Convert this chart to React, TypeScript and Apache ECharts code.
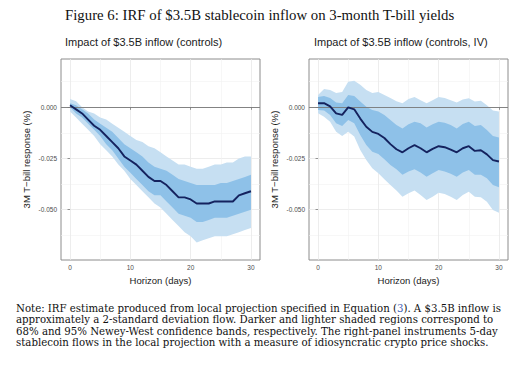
import React, { useEffect, useRef } from "react";
import * as echarts from "echarts";

const days = [0,1,2,3,4,5,6,7,8,9,10,11,12,13,14,15,16,17,18,19,20,21,22,23,24,25,26,27,28,29,30];

const leftMid = [0.001,-0.001,-0.003,-0.006,-0.009,-0.011,-0.014,-0.017,-0.020,-0.024,-0.026,-0.028,-0.031,-0.034,-0.036,-0.036,-0.038,-0.041,-0.044,-0.044,-0.045,-0.047,-0.047,-0.047,-0.046,-0.046,-0.046,-0.046,-0.043,-0.042,-0.041];
const leftHi95 = [0.004,0.003,0.000,-0.002,-0.003,-0.005,-0.006,-0.008,-0.010,-0.012,-0.014,-0.016,-0.017,-0.019,-0.020,-0.022,-0.024,-0.026,-0.028,-0.028,-0.029,-0.030,-0.030,-0.029,-0.028,-0.028,-0.027,-0.027,-0.025,-0.024,-0.024];
const leftLo95 = [-0.002,-0.005,-0.008,-0.011,-0.014,-0.018,-0.021,-0.024,-0.028,-0.031,-0.035,-0.038,-0.041,-0.044,-0.047,-0.049,-0.052,-0.055,-0.058,-0.061,-0.063,-0.066,-0.065,-0.064,-0.063,-0.063,-0.063,-0.062,-0.061,-0.060,-0.059];
const leftHi68 = [0.002,0.001,-0.001,-0.003,-0.006,-0.008,-0.010,-0.012,-0.015,-0.018,-0.020,-0.022,-0.024,-0.027,-0.029,-0.030,-0.031,-0.033,-0.035,-0.036,-0.037,-0.038,-0.038,-0.038,-0.038,-0.037,-0.037,-0.036,-0.035,-0.034,-0.033];
const leftLo68 = [0.000,-0.003,-0.005,-0.008,-0.011,-0.014,-0.018,-0.021,-0.025,-0.029,-0.032,-0.035,-0.038,-0.041,-0.043,-0.043,-0.046,-0.049,-0.052,-0.053,-0.054,-0.056,-0.056,-0.055,-0.054,-0.054,-0.054,-0.053,-0.052,-0.051,-0.050];

const rightMid = [0.002,0.002,0.0005,-0.003,-0.0037,0.000,-0.001,-0.0055,-0.0095,-0.012,-0.013,-0.015,-0.018,-0.0205,-0.022,-0.020,-0.0185,-0.020,-0.022,-0.0203,-0.019,-0.0195,-0.0207,-0.022,-0.020,-0.019,-0.0213,-0.021,-0.023,-0.0258,-0.0265];
const rightHi95 = [0.006,0.009,0.0085,0.007,0.0075,0.0125,0.013,0.011,0.0085,0.007,0.0075,0.006,0.0045,0.003,0.002,0.004,0.005,0.0035,0.002,0.0035,0.005,0.0045,0.0035,0.0023,0.0038,0.0044,0.0028,0.0032,0.001,-0.0015,-0.002];
const rightLo95 = [-0.0029,-0.0046,-0.007,-0.0119,-0.014,-0.0119,-0.0143,-0.0208,-0.0257,-0.0298,-0.0322,-0.0352,-0.038,-0.0407,-0.0437,-0.042,-0.0407,-0.0428,-0.0453,-0.0437,-0.0417,-0.0423,-0.0437,-0.0453,-0.0428,-0.0412,-0.0437,-0.044,-0.0461,-0.0502,-0.0515];
const rightHi68 = [0.005,0.0055,0.0045,0.0023,0.002,0.006,0.0055,0.0028,0.0003,-0.0013,-0.002,-0.0037,-0.0062,-0.0086,-0.0103,-0.0083,-0.007,-0.0078,-0.0099,-0.0083,-0.007,-0.0075,-0.0086,-0.0103,-0.0081,-0.007,-0.0091,-0.0086,-0.0111,-0.014,-0.0147];
const rightLo68 = [-0.0013,-0.0016,-0.0037,-0.0078,-0.0091,-0.0062,-0.0078,-0.0135,-0.0184,-0.0217,-0.0228,-0.0254,-0.0282,-0.0303,-0.033,-0.0314,-0.0303,-0.0319,-0.0339,-0.0322,-0.0306,-0.0314,-0.0325,-0.0339,-0.0319,-0.0306,-0.033,-0.033,-0.0347,-0.038,-0.039];

const xMajorTicks = [0, 10, 20, 30];
const xMinorTicks = [5, 15, 25];
const yMajorTicks = [-0.05, -0.025, 0];
const yMinorTicks = [-0.0625, -0.0375, -0.0125, 0.0125];

const mainTitle = "Figure 6: IRF of $3.5B stablecoin inflow on 3-month T-bill yields";
const panelTitles = ["Impact of $3.5B inflow (controls)", "Impact of $3.5B inflow (controls, IV)"];
const yTitle = "3M T\u2212bill response (%)";
const xTitle = "Horizon (days)";
const noteLines = [
  "Note: IRF estimate produced from local projection specified in Equation ({b|3}). A $3.5B inflow is",
  "approximately a 2-standard deviation flow. Darker and lighter shaded regions correspond to",
  "68% and 95% Newey-West confidence bands, respectively. The right-panel instruments 5-day",
  "stablecoin flows in the local projection with a measure of idiosyncratic crypto price shocks.",
];

const LIGHT = "#c6dff2";
const DARK = "#8ec1e8";
const LINE = "#14225e";
const SANS = "Liberation Sans, Arial, sans-serif";
const SERIF = "Liberation Serif, Times New Roman, serif";
const NOTE_SERIF = "DejaVu Serif, serif";

const pairs = (ys: number[]) => days.map((d, i) => [d, ys[i]]);

function bandSeries(hi: number[], lo: number[], color: string, axisIdx: number, z: number) {
  return {
    type: "custom",
    coordinateSystem: "cartesian2d",
    xAxisIndex: axisIdx,
    yAxisIndex: axisIdx,
    silent: true,
    z,
    clip: true,
    data: days.map((d, i) => [d, hi[i], lo[i]]),
    encode: { x: 0, y: [1, 2] },
    renderItem: (params: any, api: any) => {
      if (params.dataIndex !== 0) return null;
      const top = days.map((d, i) => api.coord([d, hi[i]]));
      const bot = days.map((d, i) => api.coord([d, lo[i]])).reverse();
      return { type: "polygon", shape: { points: top.concat(bot) }, style: { fill: color, stroke: null } };
    },
  };
}

export default function App() {
  const ref = useRef<HTMLDivElement>(null);
  useEffect(() => {
    if (!ref.current) return;
    const chart = echarts.init(ref.current, undefined, { renderer: "svg" });
    const grids = [
      { left: 61, top: 59, width: 199, height: 201 },
      { left: 309, top: 59, width: 199, height: 201 },
    ];
    const xAxes: any[] = [];
    const yAxes: any[] = [];
    const series: any[] = [];
    const panels = [
      { mid: leftMid, hi95: leftHi95, lo95: leftLo95, hi68: leftHi68, lo68: leftLo68 },
      { mid: rightMid, hi95: rightHi95, lo95: rightLo95, hi68: rightHi68, lo68: rightLo68 },
    ];
    panels.forEach((p, g) => {
      xAxes.push({
        type: "value", gridIndex: g, position: "bottom", min: -1.5, max: 31.5,
        axisLine: { show: false }, axisLabel: { show: false },
        axisTick: { show: false, customValues: xMinorTicks },
        splitLine: { show: true, lineStyle: { color: "#f2f2f2", width: 0.6 } },
      });
      yAxes.push({
        type: "value", gridIndex: g, position: "left", min: -0.0746, max: 0.0236,
        axisLine: { show: false }, axisLabel: { show: false },
        axisTick: { show: false, customValues: yMinorTicks },
        splitLine: { show: true, lineStyle: { color: "#f2f2f2", width: 0.6 } },
      });
      xAxes.push({
        type: "value", gridIndex: g, position: "bottom", min: -1.5, max: 31.5,
        name: xTitle, nameLocation: "middle", nameGap: 7,
        nameTextStyle: { fontFamily: SANS, fontSize: 9.5, color: "#1a1a1a" },
        axisLine: { show: false },
        axisTick: { show: true, customValues: xMajorTicks, length: 2.5, lineStyle: { color: "#555", width: 0.6 } },
        axisLabel: { customValues: xMajorTicks, fontFamily: SANS, fontSize: 6.5, color: "#4d4d4d", margin: 4 },
        splitLine: { show: true, lineStyle: { color: "#e8e8e8", width: 0.8 } },
      });
      yAxes.push({
        type: "value", gridIndex: g, position: "left", min: -0.0746, max: 0.0236,
        name: yTitle, nameLocation: "middle", nameGap: 30, nameRotate: 90,
        nameTextStyle: { fontFamily: SANS, fontSize: 9.5, color: "#1a1a1a" },
        axisLine: { show: false },
        axisTick: { show: true, customValues: yMajorTicks, length: 2.5, lineStyle: { color: "#555", width: 0.6 } },
        axisLabel: { customValues: yMajorTicks, fontFamily: SANS, fontSize: 6.5, color: "#4d4d4d", margin: 4,
          formatter: (v: number) => (Math.abs(v) < 1e-9 ? "0.000" : v.toFixed(3)) },
        splitLine: { show: true, lineStyle: { color: "#e8e8e8", width: 0.8 } },
      });
      const ai = g * 2 + 1;
      series.push(bandSeries(p.hi95, p.lo95, LIGHT, ai, 2));
      series.push(bandSeries(p.hi68, p.lo68, DARK, ai, 3));
      series.push({
        type: "line", xAxisIndex: ai, yAxisIndex: ai, symbol: "none", silent: true,
        data: pairs(p.mid), lineStyle: { color: LINE, width: 1.9 }, z: 5,
        markLine: { silent: true, symbol: "none", label: { show: false },
          lineStyle: { color: "#777", width: 0.9, type: "solid" }, data: [{ yAxis: 0 }] },
      });
    });

    chart.setOption({
      animation: false,
      grid: grids.map((g) => ({ ...g, show: true, borderColor: "#8c8c8c", borderWidth: 1, backgroundColor: "#fff" })),
      xAxis: xAxes,
      yAxis: yAxes,
      series,
      title: [
        { text: mainTitle, left: 60, top: 2, textStyle: { fontFamily: SERIF, fontSize: 14.8, fontWeight: "normal", color: "#111" } },
        { text: panelTitles[0], left: 60, top: 31, textStyle: { fontFamily: SANS, fontSize: 11, fontWeight: "normal", color: "#1a1a1a" } },
        { text: panelTitles[1], left: 309, top: 31, textStyle: { fontFamily: SANS, fontSize: 11, fontWeight: "normal", color: "#1a1a1a" } },
      ],
      graphic: noteLines.map((t, i) => ({
        type: "text", left: 16, top: 303 + i * 11.5,
        style: { text: t, fontFamily: NOTE_SERIF, fontSize: 10.2, fill: "#111",
          rich: { b: { fontFamily: NOTE_SERIF, fontSize: 10.2, fill: "#3b5bb5", color: "#3b5bb5" } } },
      })),
    });
    return () => chart.dispose();
  }, []);
  return <div ref={ref} style={{ position: "fixed", left: 0, top: 0, width: 530, height: 368, background: "#fff" }} />;
}
